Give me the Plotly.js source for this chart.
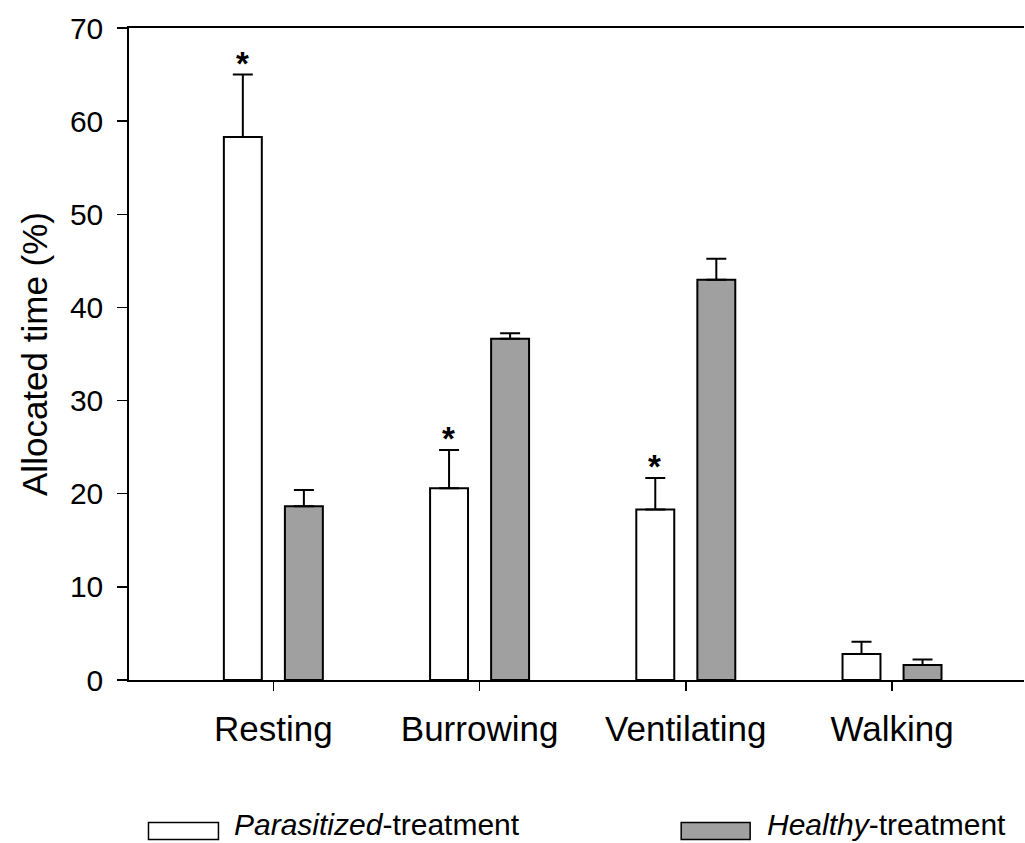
<!DOCTYPE html>
<html>
<head>
<meta charset="utf-8">
<script src="https://cdn.plot.ly/plotly-3.0.1.min.js"></script>
<style>html,body{margin:0;padding:0;background:#fff;}#chart{width:1025px;height:843px;}</style>
</head>
<body>
<div id="chart"></div>
<script>
// ---- data ----
const categories = ["Resting", "Burrowing", "Ventilating", "Walking"];
const parasitized = [58.3, 20.6, 18.3, 2.8];
const parasitizedErr = [6.7, 4.1, 3.4, 1.3];
const healthy = [18.65, 36.64, 42.97, 1.6];
const healthyErr = [1.75, 0.6, 2.25, 0.6];
const significant = [true, true, true, false];
const yTicks = [0, 10, 20, 30, 40, 50, 60, 70];
const seriesNames = ["Parasitized", "Healthy"];

// ---- layout constants ----
const W = 1025, H = 843;
const L = 128.5, T = 28, R = 1, B = H - 680.5;
const plotW = W - L - R, plotH = H - T - B;
const px2x = p => (p - L) / plotW;
const py2y = p => (H - B - p) / plotH;
const FONT = "Liberation Sans, Arial, sans-serif";
const barW = 0.184;

const errStyle = {type: "data", symmetric: false, color: "#000", thickness: 2, width: 10};

const traces = [
  {
    type: "bar", x: categories, y: parasitized, name: seriesNames[0],
    offset: -0.24, width: barW,
    marker: {color: "#ffffff", line: {color: "#000", width: 2}},
    error_y: Object.assign({array: parasitizedErr, arrayminus: parasitizedErr.map(() => 0)}, errStyle),
    showlegend: false, hoverinfo: "skip"
  },
  {
    type: "bar", x: categories, y: healthy, name: seriesNames[1],
    offset: 0.056, width: barW,
    marker: {color: "#a0a0a0", line: {color: "#000", width: 2}},
    error_y: Object.assign({array: healthyErr, arrayminus: healthyErr.map(() => 0)}, errStyle),
    showlegend: false, hoverinfo: "skip"
  }
];

const annotations = [];
categories.forEach((c, i) => {
  if (significant[i]) {
    annotations.push({
      x: c, y: parasitized[i] + parasitizedErr[i], xref: "x", yref: "y",
      xshift: -31, yshift: -9, yanchor: "bottom", showarrow: false,
      text: "<b>*</b>", font: {family: FONT, size: 33, color: "#000"}
    });
  }
});

// legend (drawn manually)
const legendItems = [
  {name: "<i>Parasitized</i>-treatment", fill: "#ffffff", x0: 148, x1: 218, tx: 233},
  {name: "<i>Healthy</i>-treatment", fill: "#a0a0a0", x0: 681, x1: 750, tx: 766}
];
const shapes = legendItems.map(it => ({
  type: "rect", xref: "paper", yref: "paper",
  x0: px2x(it.x0), x1: px2x(it.x1), y0: py2y(840), y1: py2y(823),
  fillcolor: it.fill, line: {color: "#000", width: 1.5}
}));
legendItems.forEach(it => {
  annotations.push({
    xref: "paper", yref: "paper", x: px2x(it.tx), y: py2y(825),
    xanchor: "left", yanchor: "middle", showarrow: false, borderpad: 0,
    text: it.name, font: {family: FONT, size: 30, color: "#000"}
  });
});

const layout = {
  width: W, height: H,
  margin: {l: L, r: R, t: T, b: B, pad: 0},
  paper_bgcolor: "#fff", plot_bgcolor: "#fff",
  font: {family: FONT, color: "#000"},
  barmode: "overlay",
  xaxis: {
    type: "category", range: [-0.70, 3.64],
    showgrid: false, zeroline: false,
    showline: true, linecolor: "#000", linewidth: 2, mirror: true,
    ticks: "outside", ticklen: 9, tickwidth: 1.5, tickcolor: "#000",
    ticklabelstandoff: 8,
    tickfont: {family: FONT, size: 35, color: "#000"}
  },
  yaxis: {
    range: [0, 70], tickvals: yTicks,
    showgrid: false, zeroline: false,
    showline: true, linecolor: "#000", linewidth: 1.7,
    ticks: "outside", ticklen: 10, tickwidth: 1.5, tickcolor: "#000",
    ticklabelstandoff: 8,
    tickfont: {family: FONT, size: 30, color: "#000"},
    title: {text: "Allocated time (%)", font: {family: FONT, size: 35, color: "#000"}, standoff: 12}
  },
  shapes: shapes,
  annotations: annotations
};

Plotly.newPlot("chart", traces, layout, {staticPlot: true, displayModeBar: false});
</script>
</body>
</html>
